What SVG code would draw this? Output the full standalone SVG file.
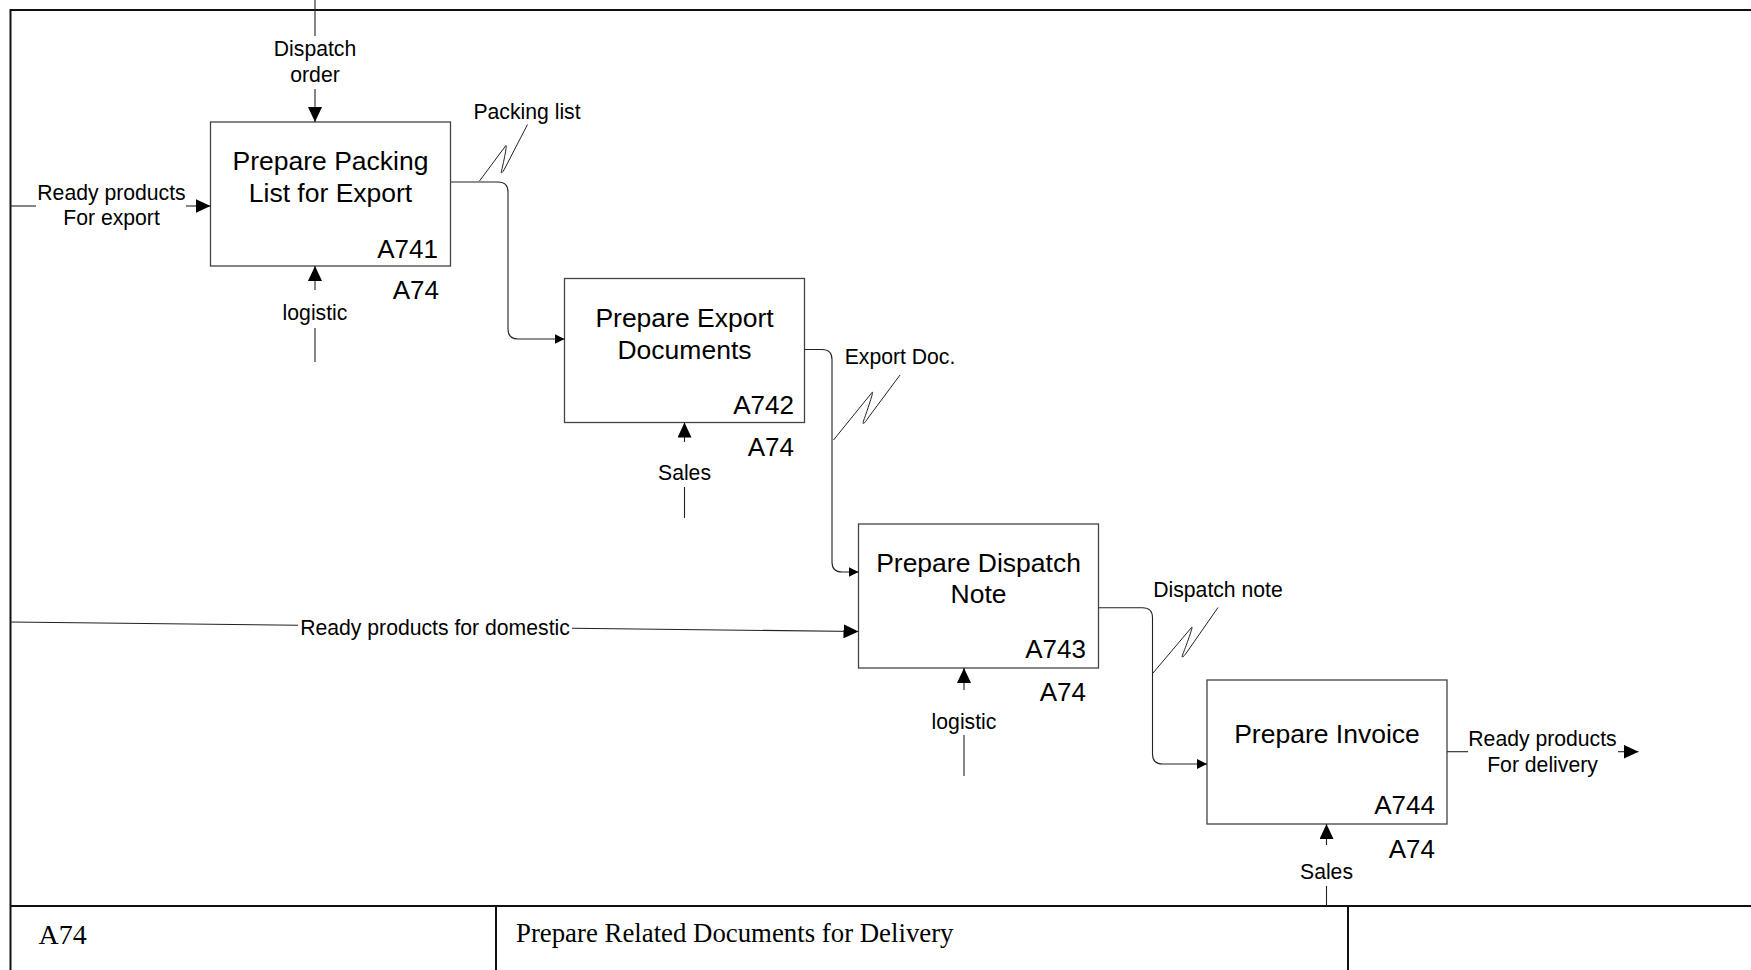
<svg xmlns="http://www.w3.org/2000/svg" width="1751" height="970" viewBox="0 0 1751 970">
  <style>
    .frame{fill:none;stroke:#111;stroke-width:2}
    .box rect{fill:#fff;stroke:#444;stroke-width:1.3}
    text{font-family:"Liberation Sans",Arial,sans-serif;fill:#000}
    .title{font-size:26.5px;text-anchor:middle}
    .num{font-size:26px;text-anchor:end}
    .lbl{font-size:21.2px;text-anchor:middle}
    .ln{fill:none;stroke:#222;stroke-width:1.1}
    .sq{fill:none;stroke:#222;stroke-width:1}
    .tb{font-family:"Liberation Serif","Times New Roman",serif;font-size:26.8px}
  </style>
  <defs>
    <marker id="big" markerUnits="userSpaceOnUse" markerWidth="15" markerHeight="14" refX="15" refY="7" orient="auto">
      <path d="M0,0 L15,7 L0,14 z" fill="#000"/>
    </marker>
    <marker id="small" markerUnits="userSpaceOnUse" markerWidth="10" markerHeight="10" refX="10" refY="5" orient="auto">
      <path d="M0,0 L10,5 L0,10 z" fill="#000"/>
    </marker>
  </defs>

  <!-- drawing frame and title block -->
  <g id="frame">
    <line class="frame" x1="10" y1="10" x2="1751" y2="10"/>
    <line class="frame" x1="10.5" y1="9" x2="10.5" y2="970"/>
    <line class="frame" x1="10" y1="906" x2="1751" y2="906"/>
    <line class="frame" x1="496" y1="906" x2="496" y2="970"/>
    <line class="frame" x1="1348" y1="906" x2="1348" y2="970"/>
    <text class="tb" x="38.5" y="944" style="font-size:28px">A74</text>
    <text class="tb" x="516" y="942">Prepare Related Documents for Delivery</text>
  </g>

  <!-- activity boxes -->
  <g id="A741" class="box">
    <rect x="210.5" y="122" width="240" height="144"/>
    <text class="title" x="330.5" y="170">Prepare Packing</text>
    <text class="title" x="330.5" y="202">List for Export</text>
    <text class="num" x="438" y="258">A741</text>
    <text class="num" x="439" y="299">A74</text>
  </g>
  <g id="A742" class="box">
    <rect x="564.5" y="278.5" width="240" height="144"/>
    <text class="title" x="684.5" y="327">Prepare Export</text>
    <text class="title" x="684.5" y="358.5">Documents</text>
    <text class="num" x="794" y="414">A742</text>
    <text class="num" x="794" y="456">A74</text>
  </g>
  <g id="A743" class="box">
    <rect x="858.5" y="524" width="240" height="144"/>
    <text class="title" x="978.5" y="572">Prepare Dispatch</text>
    <text class="title" x="978.5" y="603">Note</text>
    <text class="num" x="1086" y="658">A743</text>
    <text class="num" x="1086" y="701">A74</text>
  </g>
  <g id="A744" class="box">
    <rect x="1207" y="680" width="240" height="144"/>
    <text class="title" x="1327" y="743">Prepare Invoice</text>
    <text class="num" x="1435" y="814">A744</text>
    <text class="num" x="1435" y="858">A74</text>
  </g>

  <!-- arrows, squiggles and arrow labels -->
  <g id="connectors">
    <!-- Dispatch order: control of A741 -->
    <line class="ln" x1="315" y1="0" x2="315" y2="36"/>
    <text class="lbl" x="315" y="55.5">Dispatch</text>
    <text class="lbl" x="315" y="81.5">order</text>
    <line class="ln" x1="315" y1="89" x2="315" y2="122" marker-end="url(#big)"/>

    <!-- Ready products For export: input of A741 -->
    <line class="ln" x1="10" y1="206" x2="36" y2="206"/>
    <text class="lbl" x="111.5" y="200">Ready products</text>
    <text class="lbl" x="111.5" y="225">For export</text>
    <line class="ln" x1="186" y1="206" x2="210.5" y2="206" marker-end="url(#big)"/>

    <!-- logistic: mechanism of A741 -->
    <line class="ln" x1="315" y1="362" x2="315" y2="328"/>
    <text class="lbl" x="315" y="319.5">logistic</text>
    <line class="ln" x1="315" y1="290" x2="315" y2="266" marker-end="url(#big)"/>

    <!-- Packing list: A741 to A742 -->
    <path class="ln" d="M451,182 H498 Q508,182 508,192 V329 Q508,339 518,339 H564.5" marker-end="url(#small)"/>
    <path class="sq" d="M479.5,181 L505.5,146 C508,142 503,165 501.5,171 C500.5,175 503,172 505,168 L527.5,124.5"/>
    <text class="lbl" x="527" y="119">Packing list</text>

    <!-- Sales: mechanism of A742 -->
    <line class="ln" x1="684.5" y1="518" x2="684.5" y2="487"/>
    <text class="lbl" x="684.5" y="479.5">Sales</text>
    <line class="ln" x1="684.5" y1="442" x2="684.5" y2="422.5" marker-end="url(#big)"/>

    <!-- Export Doc.: A742 to A743 -->
    <path class="ln" d="M804.5,349.5 H822 Q832,349.5 832,359.5 V562 Q832,572 842,572 H858.5" marker-end="url(#small)"/>
    <path class="sq" d="M833.5,440 L872,392.5 C875,388 866,414 863.5,421 C862,426 865,423 868,418 L900,375"/>
    <text class="lbl" x="900" y="363.5">Export Doc.</text>

    <!-- Ready products for domestic: input of A743 -->
    <line class="ln" x1="10" y1="622" x2="298" y2="625.2"/>
    <text class="lbl" x="435" y="634.5">Ready products for domestic</text>
    <line class="ln" x1="572" y1="628.3" x2="858.5" y2="631.5" marker-end="url(#big)"/>

    <!-- logistic: mechanism of A743 -->
    <line class="ln" x1="964" y1="776" x2="964" y2="735"/>
    <text class="lbl" x="964" y="728.5">logistic</text>
    <line class="ln" x1="964" y1="690" x2="964" y2="668" marker-end="url(#big)"/>

    <!-- Dispatch note: A743 to A744 -->
    <path class="ln" d="M1098.8,607.7 H1142.5 Q1152.5,607.7 1152.5,617.7 V754 Q1152.5,764 1162.5,764 H1207" marker-end="url(#small)"/>
    <path class="sq" d="M1153,673 L1191.5,627.5 C1194.5,623 1185,649 1182.5,655 C1181,659 1184,656.5 1187,652 L1218,607.5"/>
    <text class="lbl" x="1218" y="596.5">Dispatch note</text>

    <!-- Sales: mechanism of A744 -->
    <line class="ln" x1="1326.5" y1="906" x2="1326.5" y2="886"/>
    <text class="lbl" x="1326.5" y="878.5">Sales</text>
    <line class="ln" x1="1326.5" y1="845" x2="1326.5" y2="824" marker-end="url(#big)"/>

    <!-- Ready products For delivery: output of A744 -->
    <line class="ln" x1="1447" y1="751.7" x2="1468" y2="751.7"/>
    <text class="lbl" x="1542.5" y="746">Ready products</text>
    <text class="lbl" x="1542.5" y="772">For delivery</text>
    <line class="ln" x1="1618" y1="751.7" x2="1638.5" y2="751.7" marker-end="url(#big)"/>
  </g>
</svg>
